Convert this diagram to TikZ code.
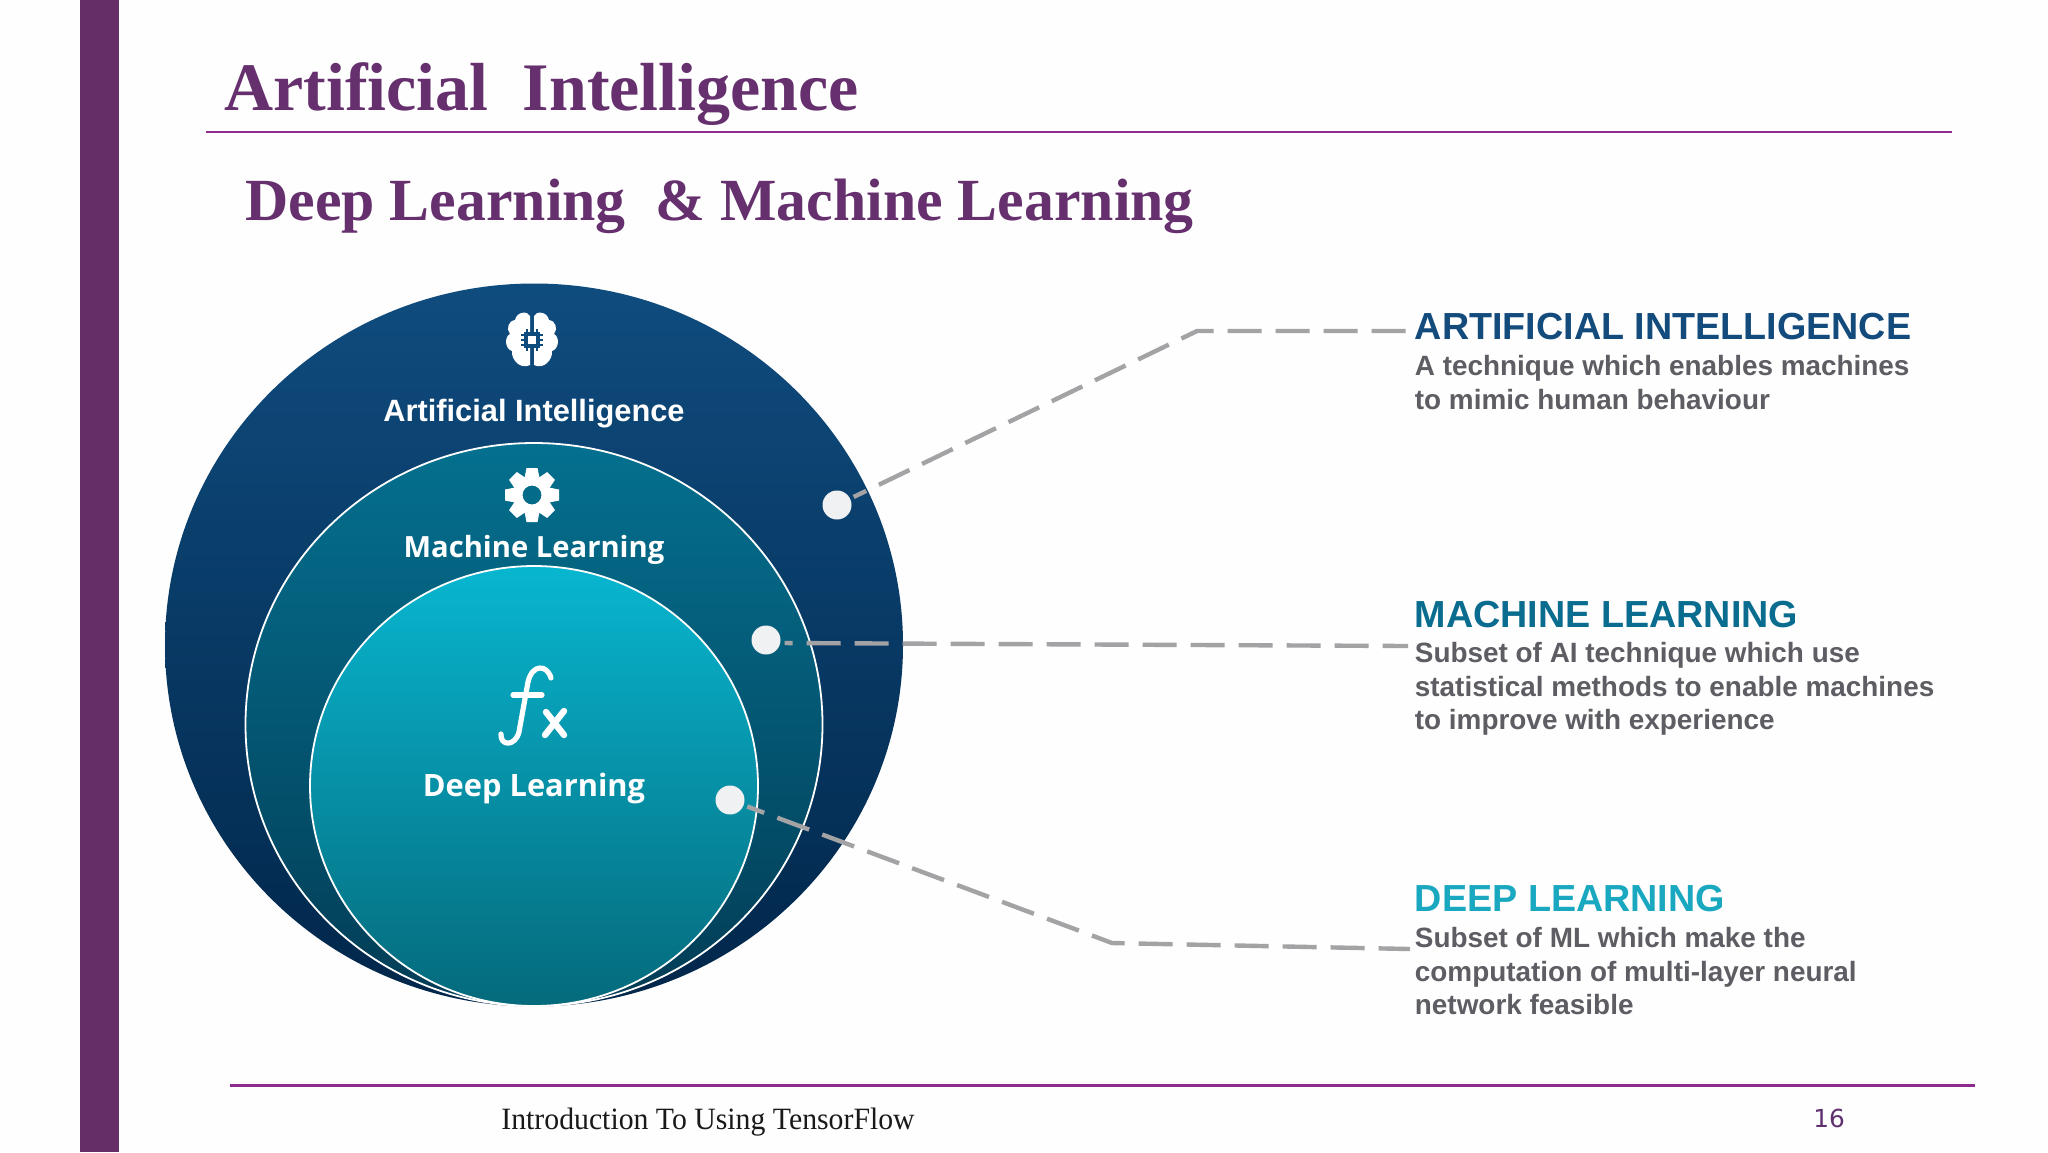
\documentclass[tikz,border=0pt]{standalone}
\usepackage{fontspec}
\setmainfont{Liberation Sans}
\newfontfamily\serifbold{Liberation Serif}
\newfontfamily\footfont[FakeStretch=0.96]{Liberation Serif}
\newfontfamily\numfont{DejaVu Sans}
\newfontfamily\labfont{Open Sans}
\usetikzlibrary{shapes.geometric}
\definecolor{plum}{HTML}{652E66}
\definecolor{rule}{HTML}{8E2A90}
\definecolor{titlecol}{HTML}{66306E}
\definecolor{pagecol}{HTML}{5E3070}
\definecolor{dashgray}{HTML}{A3A3A6}
\definecolor{bodygray}{HTML}{5D5D63}
\definecolor{aihead}{HTML}{134B7C}
\definecolor{mlhead}{HTML}{0A6C8E}
\definecolor{dlhead}{HTML}{1AA8C0}
\definecolor{dotfill}{HTML}{F0F1F3}
\definecolor{aitop}{HTML}{0F4C7E}
\definecolor{aimid}{HTML}{0A3F70}
\definecolor{aibot}{HTML}{01264A}
\definecolor{mltop}{HTML}{04708F}
\definecolor{mlmid}{HTML}{045F80}
\definecolor{mlbot}{HTML}{033C55}
\definecolor{dltop}{HTML}{08B6D0}
\definecolor{dlmid}{HTML}{08A0B6}
\definecolor{dlbot}{HTML}{056A7C}
\tikzset{
  x=0.5pt,y=-0.5pt,
  big/.style={ellipse,inner sep=0pt,outer sep=0pt},
  ring/.style={big,draw=white,line width=0.9pt},
  dotnode/.style={circle,fill=dotfill,minimum size=14.5pt,inner sep=0pt,outer sep=0pt},
  leader/.style={draw=dashgray,line width=2.2pt,dash pattern=on 17pt off 7pt,shorten <=2pt},
  headtext/.style={anchor=base west,inner sep=0pt,font=\bfseries\fontsize{18.85}{20}\selectfont},
  bodytext/.style={anchor=north west,inner sep=0pt,align=left,text=bodygray,font=\bfseries\fontsize{13.95}{16.8}\selectfont},
  circtext/.style={anchor=base,inner sep=0pt,text=white,font=\bfseries\fontsize{15.4}{16}\selectfont},
  circtextb/.style={anchor=base,inner sep=0pt,text=white,font=\labfont\bfseries\fontsize{14.6}{16}\selectfont},
  circtextc/.style={anchor=base,inner sep=0pt,text=white,font=\labfont\bfseries\fontsize{15.4}{16}\selectfont},
  icon/.style={fill=white,draw=none},
  fxline/.style={draw=white,line width=2.6pt,line cap=round,line join=round},
}
\begin{document}
\begin{tikzpicture}
\useasboundingbox (0,0) rectangle (2048,1152);
\fill[white!99.5!black] (0,0) rectangle (2048,1152);
\fill[plum] (80,0) rectangle (119,1152);
% rules
\coordinate (r1a) at (206,132); \coordinate (r1b) at (1952,132);
\coordinate (r2a) at (230,1085.5); \coordinate (r2b) at (1975,1085.5);
\draw[rule,line width=1.4pt] (r1a) -- (r1b);
\draw[rule,line width=1.7pt] (r2a) -- (r2b);
% titles
\node[anchor=base west,inner sep=0pt,text=titlecol,font=\serifbold\bfseries\fontsize{34}{36}\selectfont] (title) at (224,110) {Artificial\ \ Intelligence};
\node[anchor=base west,inner sep=0pt,text=titlecol,font=\serifbold\bfseries\fontsize{29.9}{32}\selectfont] (subtitle) at (245,220) {Deep Learning\ \ \& Machine Learning};
% circles
\node[big,minimum width=369pt,minimum height=361.5pt,shade,shading=axis,top color=aitop,middle color=aimid,bottom color=aibot] (ai) at (534,645) {};
\node[ring,minimum width=288.5pt,minimum height=281.5pt,shade,shading=axis,top color=mltop,middle color=mlmid,bottom color=mlbot] (ml) at (534,724.5) {};
\node[ring,minimum width=224pt,minimum height=220pt,shade,shading=axis,top color=dltop,middle color=dlmid,bottom color=dlbot] (dl) at (534,786) {};
% labels
\node[circtext] (ailab) at (534,421) {Artificial Intelligence};
\node[circtextb] (mllab) at (534,557) {Machine Learning};
\node[circtextc] (dllab) at (534,796) {Deep Learning};
% brain
\begin{scope}[shift={(532,340)}]
  \foreach \s in {-1,1}{
    \begin{scope}[xscale=\s]
      \fill[icon] (2,-24) .. controls (4,-29) and (15,-29) .. (17,-20) .. controls (24,-19) and (26,-11) .. (22,-6)
        .. controls (28,-3) and (27,9) .. (20,11) .. controls (21,20) and (11,30) .. (2,25) -- cycle;
    \end{scope}
  }
  \fill[aitop] (-8,-8) rectangle (8,8);
  \foreach \p in {-5,0,5}{
    \draw[aitop,line width=0.7pt] (-11,\p) -- (-7,\p) (7,\p) -- (11,\p) (\p,-11) -- (\p,-7) (\p,7) -- (\p,11);
  }
  \fill[white] (-3.8,-3.8) rectangle (3.8,3.8);
\end{scope}
% gear
\begin{scope}[shift={(532,495)}]
  \fill[icon,even odd rule] (0,0) circle (19) (0,0) circle (9.5);
  \foreach \a in {0,45,...,315}{
    \fill[icon,rotate=\a] (17,-7.5) -- (27,-5.5) -- (27,5.5) -- (17,7.5) -- cycle;
  }
\end{scope}
% fx
\begin{scope}[shift={(470,640)}]
  \draw[fxline] (81,38) .. controls (77,24) and (62,24) .. (58,42) -- (49,92) .. controls (45,107) and (30,106) .. (31,94);
  \draw[fxline] (43,55) -- (72,55);
  \draw[fxline,line width=3.2pt] (76,72) -- (94,95) (94,71) -- (75,95);
\end{scope}
% right text
\node[headtext,text=aihead] (aihd) at (1414.5,339) {ARTIFICIAL INTELLIGENCE};
\node[bodytext] (aibd) at (1414.5,355) {A technique which enables machines\\to mimic human behaviour};
\node[headtext,text=mlhead] (mlhd) at (1414.5,627) {MACHINE LEARNING};
\node[bodytext] (mlbd) at (1414.5,642) {Subset of AI technique which use\\statistical methods to enable machines\\to improve with experience};
\node[headtext,text=dlhead] (dlhd) at (1414.5,911) {DEEP LEARNING};
\node[bodytext] (dlbd) at (1414.5,927) {Subset of ML which make the\\computation of multi-layer neural\\network feasible};
% dots
\node[dotnode] (d1) at (837,505) {};
\node[dotnode] (d2) at (766,640) {};
\node[dotnode] (d3) at (730,800) {};
\coordinate (e1) at (1197,331); \coordinate (t1) at (1406,331);
\coordinate (t2) at (1408,646);
\coordinate (e3) at (1112,943); \coordinate (t3) at (1410,949);
\draw[leader,dash phase=10pt] (d1) -- (e1) -- (t1);
\draw[leader,dash phase=13pt] ([yshift=-1.5pt]d2.east) -- (t2);
\draw[leader,dash phase=8pt] (d3) -- (e3) -- (t3);
% footer
\node[anchor=base west,inner sep=0pt,text=black!90,font=\footfont\fontsize{15.5}{17}\selectfont] (foot) at (501,1129) {Introduction To Using TensorFlow};
\node[anchor=base,inner sep=0pt,text=pagecol,font=\numfont\fontsize{12.4}{14}\selectfont] (pg) at (1829,1127) {16};
\end{tikzpicture}
\end{document}
